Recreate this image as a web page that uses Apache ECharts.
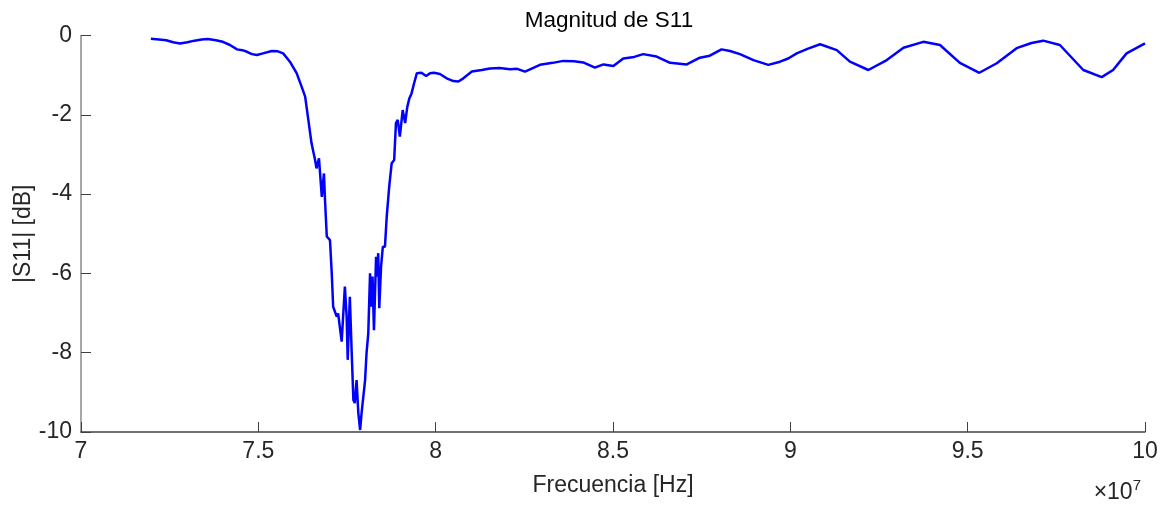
<!DOCTYPE html>
<html>
<head>
<meta charset="utf-8">
<script src="https://cdn.jsdelivr.net/npm/echarts@6/dist/echarts.min.js"></script>
<style>
html,body{margin:0;padding:0;background:#fff;}
#chart{width:1165px;height:505px;}
</style>
</head>
<body>
<div id="chart"></div>
<script>
// Frequency in MHz (axis shows Hz, scaled by 1e7)
const freqMHz = [
  71.97, 72.2, 72.4, 72.6, 72.79, 73.0, 73.2, 73.4, 73.58, 73.8, 74.0, 74.2, 74.4, 74.55, 74.68, 74.82, 74.96, 75.13, 75.38, 75.55, 75.7, 75.89,
  76.08, 76.22, 76.32, 76.41, 76.50, 76.60, 76.64, 76.71, 76.79, 76.85, 76.88, 76.93,
  77.02, 77.07, 77.11, 77.21, 77.25, 77.35, 77.44, 77.49, 77.52, 77.58, 77.63, 77.68,
  77.72, 77.77, 77.82, 77.87, 77.91, 78.01, 78.05, 78.10, 78.15, 78.18, 78.22, 78.26,
  78.32, 78.35, 78.38, 78.41, 78.46, 78.51, 78.57, 78.62, 78.69, 78.76, 78.83, 78.88,
  78.93, 78.99, 79.07, 79.14, 79.20, 79.26, 79.32, 79.39, 79.47, 79.60, 79.73, 79.84,
  79.95, 80.12, 80.31, 80.50, 80.64, 80.78, 81.02, 81.3, 81.53, 81.8, 82.10, 82.3, 82.52, 82.94, 83.3, 83.60,
  83.9, 84.16, 84.49, 84.73, 85.01, 85.29, 85.6, 85.85, 86.23, 86.61, 87.08, 87.45, 87.73, 88.06,
  88.3, 88.58, 88.96, 89.38, 89.71, 89.94, 90.18, 90.5, 90.84, 91.31, 91.68, 92.20, 92.72, 93.19,
  93.75, 94.22, 94.78, 95.33, 95.82, 96.38, 96.8, 97.13, 97.60, 98.26, 98.78, 99.10, 99.48, 100.0
];
const s11dB = [
  -0.08, -0.10, -0.12, -0.17, -0.20, -0.17, -0.13, -0.10, -0.09, -0.12, -0.16, -0.24, -0.35, -0.37, -0.41, -0.47, -0.49, -0.45, -0.39, -0.40, -0.45, -0.66,
  -0.95, -1.29, -1.54, -2.13, -2.72, -3.14, -3.35, -3.10, -4.07, -3.48, -4.15, -5.07,
  -5.16, -6.00, -6.84, -7.09, -7.01, -7.72, -6.33, -7.09, -8.18, -6.59, -7.93, -9.19,
  -9.27, -8.69, -9.53, -9.95, -9.53, -8.69, -8.02, -7.51, -6.00, -6.84, -6.08, -7.43,
  -5.58, -6.08, -5.49, -6.88, -5.83, -5.33, -5.33, -4.57, -3.81, -3.22, -3.14, -2.21,
  -2.13, -2.55, -1.88, -2.21, -1.80, -1.58, -1.46, -1.21, -0.95, -0.94, -1.02, -0.95,
  -0.94, -0.97, -1.08, -1.15, -1.16, -1.08, -0.91, -0.87, -0.83, -0.82, -0.85, -0.84, -0.91, -0.74, -0.69, -0.64,
  -0.65, -0.68, -0.81, -0.73, -0.77, -0.58, -0.54, -0.47, -0.53, -0.69, -0.73, -0.56, -0.51, -0.35,
  -0.39, -0.47, -0.62, -0.74, -0.66, -0.58, -0.45, -0.33, -0.22, -0.37, -0.66, -0.87, -0.62, -0.31,
  -0.16, -0.24, -0.69, -0.94, -0.70, -0.32, -0.19, -0.13, -0.24, -0.87, -1.05, -0.87, -0.45, -0.20
];
const titleText = 'Magnitud de S11';
const xAxisName = 'Frecuencia [Hz]';
const yAxisName = '|S11| [dB]';
const xMin = 7e7, xMax = 10e7, xStep = 0.5e7;
const yMin = -10, yMax = 0, yStep = 2;

const data = freqMHz.map((f, i) => [f * 1e6, s11dB[i]]);
const font = 'Arial, "Liberation Sans", Helvetica, sans-serif';
const chart = echarts.init(document.getElementById('chart'), null, {renderer: 'canvas'});
chart.setOption({
  animation: false,
  backgroundColor: '#ffffff',
  title: {
    text: titleText, left: 604, top: 4, textAlign: 'center',
    textStyle: {fontFamily: font, fontSize: 22.5, fontWeight: 'normal', color: '#000000'}
  },
  grid: {left: 81, right: 20, top: 35.5, bottom: 73, containLabel: false, outerBoundsMode: 'none'},
  xAxis: {
    type: 'value', min: xMin, max: xMax, interval: xStep,
    name: xAxisName, nameLocation: 'middle', nameGap: 42, nameMoveOverlap: false,
    nameTextStyle: {fontFamily: font, fontSize: 23, color: '#262626'},
    axisLine: {show: true, onZero: false, lineStyle: {color: '#404040', width: 1.5}},
    axisTick: {show: true, inside: true, length: 10, lineStyle: {color: '#404040', width: 1}},
    axisLabel: {
      margin: 8, fontFamily: font, fontSize: 23, color: '#262626',
      formatter: v => String(+(v / 1e7).toFixed(1))
    },
    splitLine: {show: false}
  },
  yAxis: {
    type: 'value', min: yMin, max: yMax, interval: yStep,
    name: yAxisName, nameLocation: 'middle', nameGap: 46, nameRotate: 90, nameMoveOverlap: false,
    nameTextStyle: {fontFamily: font, fontSize: 23, color: '#262626'},
    axisLine: {show: true, onZero: false, lineStyle: {color: '#8a8a8a', width: 1.5}},
    axisTick: {show: true, inside: true, length: 10, lineStyle: {color: '#404040', width: 1}},
    axisLabel: {margin: 9, fontFamily: font, fontSize: 23, color: '#262626'},
    splitLine: {show: false}
  },
  graphic: [{
    type: 'text', right: 24, bottom: 1,
    style: {
      text: '{a|×10}{b|7}',
      rich: {
        a: {fontFamily: font, fontSize: 23, fill: '#262626', verticalAlign: 'bottom'},
        b: {fontFamily: font, fontSize: 15, fill: '#262626', verticalAlign: 'top', padding: [0, 0, 11, 0]}
      }
    }
  }],
  series: [{
    type: 'line', data: data, showSymbol: false, smooth: false,
    lineStyle: {color: '#0000ff', width: 2.5},
    itemStyle: {color: '#0000ff'}
  }]
});
</script>
</body>
</html>
